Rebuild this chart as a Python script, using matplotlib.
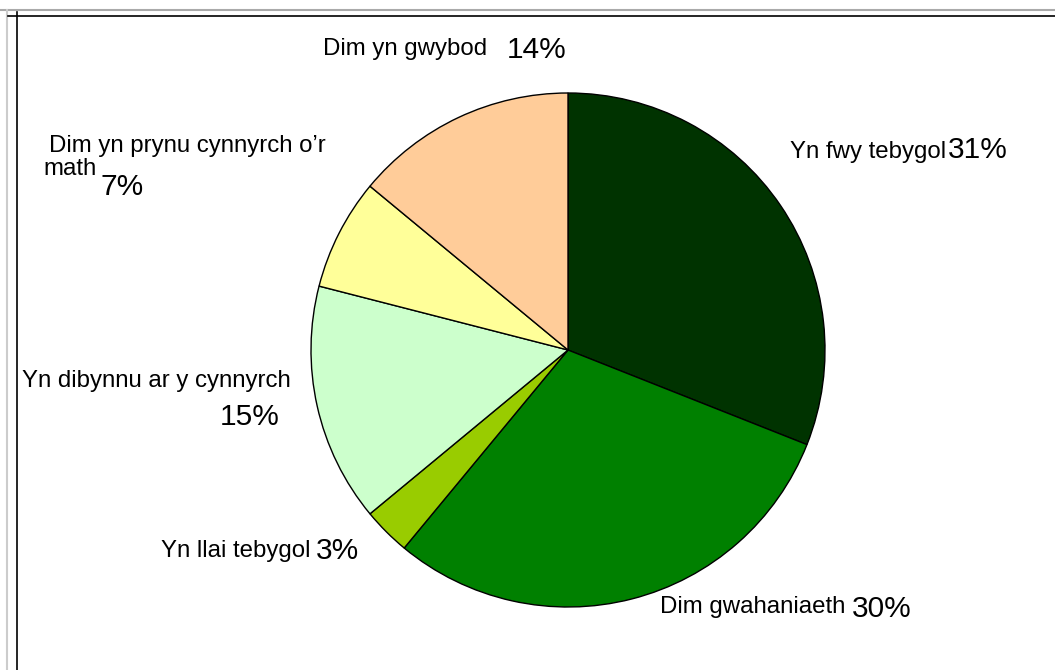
import matplotlib
matplotlib.use("Agg")
import matplotlib.pyplot as plt
from matplotlib.lines import Line2D

plt.rcParams['font.family'] = ['Liberation Sans', 'DejaVu Sans']

# data
categories = ["Yn fwy tebygol", "Dim gwahaniaeth", "Yn llai tebygol",
              "Yn dibynnu ar y cynnyrch", "Dim yn prynu cynnyrch o\u2019r",
              "Dim yn gwybod"]
values = [31, 30, 3, 15, 7, 14]
colors = ["#003300", "#008000", "#99CC00", "#CCFFCC", "#FFFF99", "#FFCC99"]

W, H = 1055, 670
fig = plt.figure(figsize=(W / 100, H / 100), dpi=100)
ax = fig.add_axes([0, 0, 1, 1])

ax.pie(values, colors=colors, startangle=90, counterclock=False,
       center=(568, H - 350), radius=257,
       wedgeprops=dict(edgecolor="black", linewidth=1.0))

# pie() resets the limits, so set them afterwards
ax.set_xlim(0, W)
ax.set_ylim(0, H)
ax.set_aspect('equal')
ax.axis('off')

# frame lines (gray outer, black inner)
fig.add_artist(Line2D([0, W], [H - 10, H - 10], transform=None, color="#aaaaaa", lw=1.5))
fig.add_artist(Line2D([7, 7], [0, H - 10], transform=None, color="#cccccc", lw=1.5))
fig.add_artist(Line2D([8, W], [H - 16, H - 16], transform=None, color="black", lw=1.2))
fig.add_artist(Line2D([17, 17], [0, H - 12], transform=None, color="black", lw=1.2))

# label positions in pixels (left edge, centre y from top)
name_pos = [(790, 152), (660, 607), (161, 551), (22, 381), (49, 146), (323, 49)]
pct_pos = [(948, 150), (852, 609), (316, 551), (220, 417), (100, 187), (507, 50)]

lab_fs = 17.3
pct_fs = 21.5
for name, v, (nx, ny), (px, py) in zip(categories, values, name_pos, pct_pos):
    ax.text(nx, H - ny, name, fontsize=lab_fs, ha='left', va='center')
    ax.text(px, H - py, f"{v}%", fontsize=pct_fs, ha='left', va='center')

# second line of the wrapped label
ax.text(43, H - 169, "math", fontsize=lab_fs, ha='left', va='center')

fig.savefig("out.png", dpi=100)
